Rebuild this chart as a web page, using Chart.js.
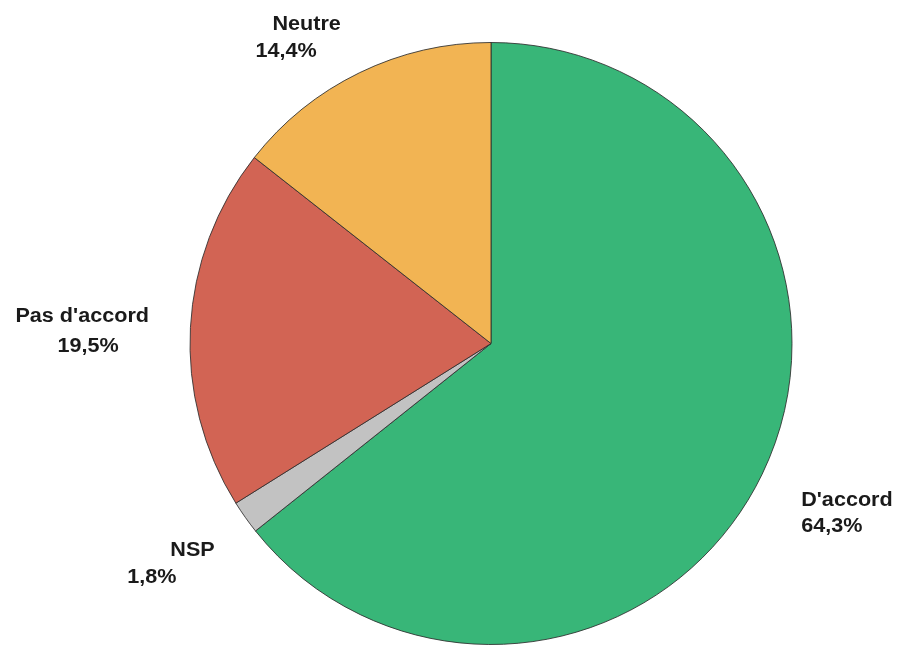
<!DOCTYPE html>
<html>
<head>
<meta charset="utf-8">
<script src="https://cdn.jsdelivr.net/npm/chart.js@4/dist/chart.umd.min.js"></script>
<style>
  html, body { margin: 0; padding: 0; background: #fff; }
  #wrap { width: 897px; height: 646px; }
</style>
</head>
<body>
<div id="wrap"><canvas id="pie"></canvas></div>
<script>
// data (clockwise from 12 o'clock)
const categories = ["D'accord", 'NSP', "Pas d'accord", 'Neutre'];
const percents = [64.3, 1.8, 19.5, 14.4];
const sliceColors = ['#38b678', '#c2c2c2', '#d26454', '#f2b453'];

// label text placement, relative to the middle of each slice's rim
// [dx, dy] of line 1 (name) and line 2 (percent), left edge / vertical middle
const labelOffsets = [
  [[39, 25], [39, 51]],
  [[-75, 32], [-118, 59]],
  [[-175, -12], [-133, 18]],
  [[-87, -49], [-104, -22]]
];

const fmt = v => v.toFixed(1).replace('.', ',') + '%';

const pieLabels = {
  id: 'pieLabels',
  afterDatasetsDraw(chart) {
    const ctx = chart.ctx;
    const arcs = chart.getDatasetMeta(0).data;
    ctx.save();
    ctx.fillStyle = '#1a1a1a';
    ctx.font = 'bold 20px "Liberation Sans", Arial, sans-serif';
    ctx.textAlign = 'left';
    ctx.textBaseline = 'middle';
    arcs.forEach((arc, i) => {
      const mid = (arc.startAngle + arc.endAngle) / 2;
      const ax = arc.x + Math.cos(mid) * arc.outerRadius;
      const ay = arc.y + Math.sin(mid) * arc.outerRadius;
      const lines = [categories[i], fmt(percents[i])];
      lines.forEach((txt, j) => {
        const [dx, dy] = labelOffsets[i][j];
        ctx.save();
        ctx.translate(ax + dx, ay + dy + 1);
        ctx.scale(1.08, 1);
        ctx.fillText(txt, 0, 0);
        ctx.restore();
      });
    });
    ctx.restore();
  }
};

new Chart(document.getElementById('pie'), {
  type: 'pie',
  data: {
    labels: categories,
    datasets: [{
      data: percents,
      backgroundColor: sliceColors,
      borderColor: 'rgba(45,45,45,0.85)',
      borderWidth: 1
    }]
  },
  options: {
    responsive: true,
    maintainAspectRatio: false,
    animation: false,
    rotation: 0,
    layout: { padding: { top: 42, bottom: 1, left: 189, right: 104 } },
    plugins: {
      legend: { display: false },
      tooltip: { enabled: false }
    }
  },
  plugins: [pieLabels]
});
</script>
</body>
</html>
